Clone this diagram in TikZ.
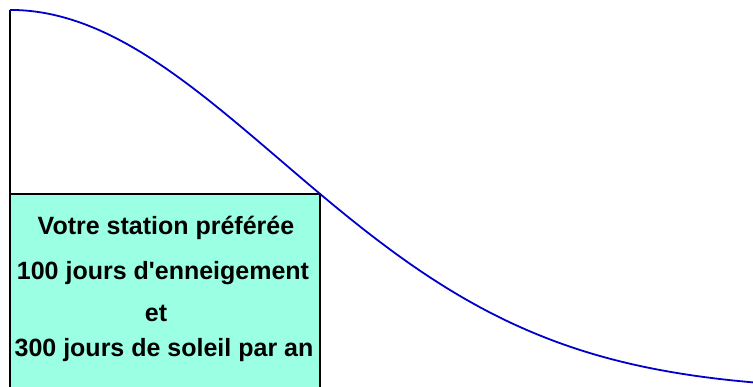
\documentclass[tikz,border=0pt]{standalone}
\usepackage{fontspec}
\setmainfont{Liberation Sans}
\definecolor{boxfill}{RGB}{155,255,228}
\definecolor{curveblue}{RGB}{0,0,200}
\begin{document}
\begin{tikzpicture}[x=1pt,y=-1pt,
  boxline/.style={draw=black,line width=1.6pt,fill=boxfill},
  curveline/.style={draw=curveblue,line width=1.8pt},
  label/.style={font=\bfseries\fontsize{25}{30}\selectfont,inner sep=0pt,anchor=center}]
\useasboundingbox (0,0) rectangle (753,387);
\coordinate (top) at (10,10);
\coordinate (bl) at (10,388);
\coordinate (tl) at (10,194);
\coordinate (tr) at (320,194);
\coordinate (br) at (320,388);
\fill[boxfill] (bl) -- (tl) -- (tr) -- (br) -- cycle;
\draw[line width=1.6pt] (bl) -- (tl) -- (tr) -- (br);
\draw[line width=1.6pt] (top) -- (bl);
\draw[curveline] plot[domain=0:743,samples=200,smooth] ({10+\x},{10+381*(1-exp(-((\x/270)^2)/2))});
\node[label] (l1) at (166,228) {Votre station préférée};
\node[label] (l2) at (163,273) {100 jours d\textquotesingle enneigement};
\node[label] (l3) at (156,313) {et};
\node[label] (l4) at (164,350) {300 jours de soleil par an};
\end{tikzpicture}
\end{document}
